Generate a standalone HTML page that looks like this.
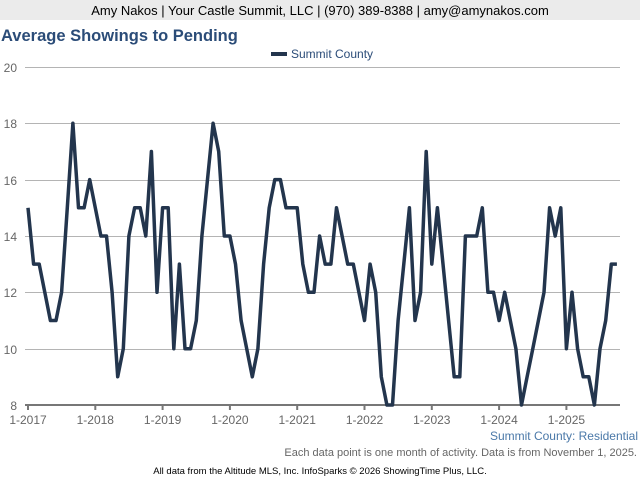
<!DOCTYPE html>
<html><head><meta charset="utf-8"><style>
body{margin:0;width:640px;height:480px;background:#fff;overflow:hidden;font-family:"Liberation Sans",sans-serif}
</style></head><body>
<svg width="640" height="480" xmlns="http://www.w3.org/2000/svg" font-family="Liberation Sans, sans-serif">
<rect x="0" y="0" width="640" height="20" fill="#ebebeb"/>
<text x="320" y="15" font-size="13" text-anchor="middle" fill="#000">Amy Nakos | Your Castle Summit, LLC | (970) 389-8388 | amy@amynakos.com</text>
<text x="1" y="41" font-size="16.5" font-weight="bold" fill="#2b4c78">Average Showings to Pending</text>
<rect x="271" y="52" width="16" height="4" fill="#23354d"/>
<text x="291" y="58" font-size="12" fill="#2b4c78">Summit County</text>
<g stroke="#b4b4b4" stroke-width="1">
<line x1="25" x2="620" y1="67.5" y2="67.5"/>
<line x1="25" x2="620" y1="123.5" y2="123.5"/>
<line x1="25" x2="620" y1="180.5" y2="180.5"/>
<line x1="25" x2="620" y1="236.5" y2="236.5"/>
<line x1="25" x2="620" y1="292.5" y2="292.5"/>
<line x1="25" x2="620" y1="349.5" y2="349.5"/>
</g>
<g font-size="12" fill="#666" text-anchor="end">
<text x="17" y="72">20</text><text x="17" y="128">18</text><text x="17" y="185">16</text>
<text x="17" y="241">14</text><text x="17" y="297">12</text><text x="17" y="354">10</text><text x="17" y="410">8</text>
</g>
<g id="ticks" stroke="#777" stroke-width="2"></g>
<line x1="25" x2="620" y1="405" y2="405" stroke="#777" stroke-width="2"/>
<g id="xl" font-size="12" fill="#666" text-anchor="middle"></g>
<polyline id="ln" fill="none" stroke="#23354d" stroke-width="3.5" stroke-linejoin="round"/>
<text x="638" y="440" font-size="12" fill="#4a78a8" text-anchor="end">Summit County: Residential</text>
<text x="637" y="456" font-size="11" fill="#666" text-anchor="end">Each data point is one month of activity. Data is from November 1, 2025.</text>
<text x="320" y="474" font-size="9.5" fill="#000" text-anchor="middle">All data from the Altitude MLS, Inc. InfoSparks © 2026 ShowingTime Plus, LLC.</text>
</svg>
<script>
var d=[15,13,13,12,11,11,12,15,18,15,15,16,
15,14,14,12,9,10,14,15,15,14,17,12,
15,15,10,13,10,10,11,14,16,18,17,14,
14,13,11,10,9,10,13,15,16,16,15,15,
15,13,12,12,14,13,13,15,14,13,13,12,
11,13,12,9,8,8,11,13,15,11,12,17,
13,15,13,11,9,9,14,14,14,15,12,12,
11,12,11,10,8,9,10,11,12,15,14,15,
10,12,10,9,9,8,10,11,13,13];
var x0=28,dx=67.3/12,p=[];
for(var i=0;i<d.length;i++){p.push((x0+i*dx).toFixed(1)+","+(405-(d[i]-8)*28.17).toFixed(1));}
document.getElementById("ln").setAttribute("points",p.join(" "));
var t="",l="";
for(var y=0;y<9;y++){var x=x0+y*67.3;t+='<line x1="'+x+'" x2="'+x+'" y1="405" y2="410"/>';l+='<text x="'+x+'" y="424">1-'+(2017+y)+'</text>';}
document.getElementById("ticks").innerHTML=t;document.getElementById("xl").innerHTML=l;
</script>
</body></html>
